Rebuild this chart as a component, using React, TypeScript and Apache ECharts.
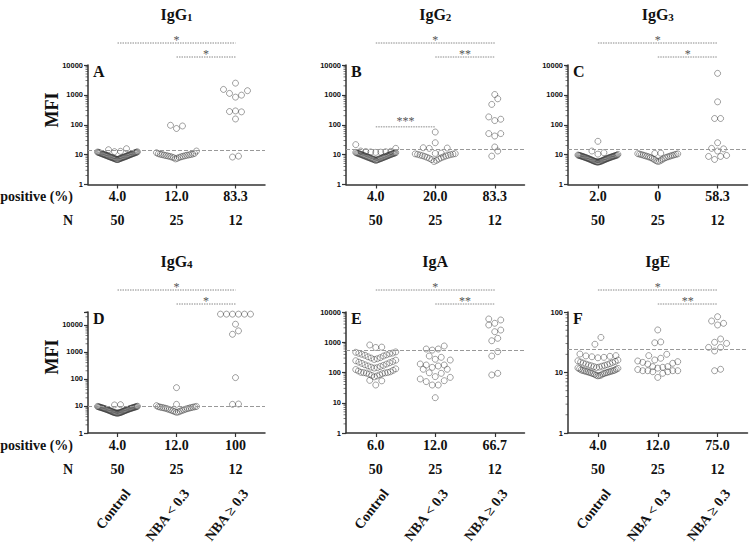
import React, { useEffect, useRef } from 'react';
import * as echarts from 'echarts';

// ---------- data ----------
const groupNames = ['Control', 'NBA < 0.3', 'NBA \u2265 0.3'];
const groupN = ['50', '25', '12'];

const titleMain = ['IgG', 'IgG', 'IgG', 'IgG', 'IgA', 'IgE'];
const titleSub = ['1', '2', '3', '4', '', ''];
const panelLetter = ['A', 'B', 'C', 'D', 'E', 'F'];

const positiveA = ['4.0', '12.0', '83.3'];
const positiveB = ['4.0', '20.0', '83.3'];
const positiveC = ['2.0', '0', '58.3'];
const positiveD = ['4.0', '12.0', '100'];
const positiveE = ['6.0', '12.0', '66.7'];
const positiveF = ['4.0', '12.0', '75.0'];

const cutoffs = [14, 15, 15, 10, 555, 24];
const yMax = [10000, 10000, 10000, 30000, 10000, 100];
const sigAll = ['*', '*', '*', '*', '*', '*'];
const sigNBA = ['*', '**', '*', '*', '**', '**'];
const sigB_ControlVsLow = '***';
const sigB_ControlVsLowLevel = 85;

// IgG1
const igg1Control = [15.8, 14.6, 12.9, 12.6, 12.4, 12.2, 12.1, 11.9, 11.7, 11.6, 11.5, 11.3, 11.1, 11.0, 10.9, 10.7, 10.6, 10.4, 10.3, 10.2, 10.0, 9.9, 9.8, 9.6, 9.5, 9.4, 9.2, 9.1, 9.0, 8.9, 8.7, 8.6, 8.5, 8.4, 8.3, 8.2, 8.1, 8.0, 7.9, 7.8, 7.7, 7.6, 7.5, 7.4, 7.3, 7.2, 7.1, 7.0, 6.9, 6.8];
const igg1Low = [96, 91, 75, 13.2, 11.6, 11.0, 10.7, 10.5, 10.3, 10.1, 10.0, 9.8, 9.6, 9.5, 9.3, 9.2, 9.0, 8.8, 8.7, 8.5, 8.3, 8.1, 7.9, 7.6, 7.2];
const igg1High = [2470, 1520, 1380, 1120, 980, 840, 290, 277, 270, 156, 8.9, 8.3];

// IgG2
const igg2Control = [21.6, 16.2, 13.2, 12.9, 12.7, 12.5, 12.3, 12.1, 11.9, 11.8, 11.6, 11.4, 11.3, 11.1, 11.0, 10.8, 10.7, 10.5, 10.4, 10.2, 10.1, 9.9, 9.8, 9.6, 9.5, 9.3, 9.2, 9.0, 8.9, 8.8, 8.6, 8.5, 8.4, 8.2, 8.1, 8.0, 7.9, 7.8, 7.6, 7.5, 7.4, 7.3, 7.2, 7.1, 7.0, 6.9, 6.8, 6.7, 6.6, 6.4];
const igg2Low = [57, 25, 17, 16.6, 16.2, 11.2, 11.0, 10.8, 10.6, 10.4, 10.2, 10.0, 9.7, 9.5, 9.2, 9.0, 8.7, 8.4, 8.1, 7.8, 7.5, 7.1, 6.8, 6.4, 5.9];
const igg2High = [1030, 740, 480, 183, 153, 138, 50.6, 50.6, 42, 18, 13.2, 8.9];

// IgG3
const igg3Control = [27.9, 13.2, 11.6, 10.4, 10.2, 9.7, 9.6, 9.5, 9.4, 9.3, 9.2, 9.1, 9.0, 8.9, 8.8, 8.7, 8.6, 8.5, 8.4, 8.3, 8.2, 8.1, 8.0, 7.9, 7.8, 7.7, 7.6, 7.5, 7.4, 7.3, 7.2, 7.1, 7.0, 6.9, 6.8, 6.7, 6.6, 6.5, 6.4, 6.3, 6.2, 6.1, 6.0, 5.95, 5.9, 5.85, 5.8, 5.7, 5.65, 5.6];
const igg3Low = [11.2, 11.0, 10.8, 10.6, 10.4, 10.2, 10.0, 9.8, 9.6, 9.4, 9.2, 9.0, 8.8, 8.6, 8.4, 8.2, 8.0, 7.8, 7.5, 7.2, 6.9, 6.6, 6.3, 6.1, 5.9];
const igg3High = [5250, 585, 162, 162, 25, 16.2, 15.6, 13.2, 9.4, 8.7, 8.7, 6.9];

// IgG4
const igg4Control = [11.2, 10.9, 9.8, 9.6, 9.5, 9.4, 9.3, 9.2, 9.1, 9.0, 8.9, 8.8, 8.7, 8.6, 8.5, 8.4, 8.3, 8.2, 8.1, 8.0, 7.9, 7.8, 7.7, 7.6, 7.5, 7.4, 7.3, 7.2, 7.1, 7.0, 6.9, 6.8, 6.7, 6.6, 6.5, 6.4, 6.3, 6.2, 6.1, 6.0, 5.9, 5.8, 5.75, 5.7, 5.65, 5.6, 5.55, 5.5, 5.45, 5.4];
const igg4Low = [47.6, 11.5, 10.3, 9.6, 9.4, 9.3, 9.1, 9.0, 8.8, 8.7, 8.5, 8.3, 8.2, 8.0, 7.8, 7.6, 7.4, 7.2, 7.0, 6.8, 6.6, 6.4, 6.2, 6.0, 5.8];
const igg4High = [25000, 25000, 25000, 25000, 25000, 25000, 10600, 6000, 4500, 112, 11.8, 11.5];

// IgA
const igaControl = [812, 690, 672, 480, 466, 440, 431, 420, 400, 385, 370, 350, 330, 310, 300, 285, 270, 255, 245, 230, 220, 210, 200, 190, 180, 172, 165, 158, 150, 145, 140, 132, 125, 118, 112, 106, 101, 100, 99, 97, 95, 92, 88, 84, 80, 77, 72, 55, 53, 38.6];
const igaLow = [751, 598, 598, 550, 351, 318, 274, 258, 191, 177, 177, 164, 148, 128, 128, 98, 94, 73, 69, 61, 53.6, 50, 38.6, 38.6, 14.7];
const igaHigh = [5870, 5440, 4240, 3720, 2530, 2230, 1350, 1120, 490, 350, 94, 83];

// IgE
const igeControl = [38, 29.3, 20.2, 19.0, 18.8, 18.5, 18.2, 17.8, 17.5, 16.0, 15.6, 15.2, 14.9, 14.6, 14.3, 14.0, 13.8, 13.5, 13.3, 13.1, 12.9, 12.7, 12.5, 12.3, 12.1, 11.9, 11.7, 11.5, 11.3, 11.0, 10.9, 10.8, 10.7, 10.6, 10.5, 10.4, 10.3, 10.2, 10.1, 10.0, 9.9, 9.8, 9.7, 9.6, 9.5, 9.3, 9.1, 9.0, 8.9, 8.8];
const igeLow = [50.5, 32, 31, 20, 19, 17.2, 16.1, 15.5, 15.1, 14.7, 14.2, 13.8, 12.5, 12.5, 12.2, 11.8, 11.2, 10.7, 10.7, 10.7, 10.7, 10.3, 10.3, 9.7, 8.3];
const igeHigh = [83.6, 71, 65, 61, 35.8, 31.6, 30.3, 26, 26, 22.7, 11.3, 10.7];

const panelData = [
  [igg1Control, igg1Low, igg1High],
  [igg2Control, igg2Low, igg2High],
  [igg3Control, igg3Low, igg3High],
  [igg4Control, igg4Low, igg4High],
  [igaControl, igaLow, igaHigh],
  [igeControl, igeLow, igeHigh],
];
const positives = [positiveA, positiveB, positiveC, positiveD, positiveE, positiveF];

// ---------- layout / style ----------
const FONT_SERIF = '"Liberation Serif", "Times New Roman", Times, serif';
const FONT_SANS = '"Liberation Sans", Arial, Helvetica, sans-serif';
const GRID_BOXES = [
  { left: 88, top: 65, width: 177, height: 119.5 },
  { left: 346, top: 65, width: 178.5, height: 119.5 },
  { left: 568, top: 65, width: 179.5, height: 119.5 },
  { left: 88, top: 312, width: 177, height: 121 },
  { left: 346, top: 312, width: 178.5, height: 121 },
  { left: 568, top: 312, width: 179.5, height: 121 },
];
const DOT = 6;
const ROW_H = 8;
const MAX_W = 40;

// column-scatter layout: rows of near-equal values are spread sideways, lowest in the middle
function swarm(values: number[], group: number, gridW: number, gridH: number, logMax: number): number[][] {
  const pxPerUnit = gridW / 3;
  const py = (v: number) => (gridH * Math.log10(v)) / logMax;
  const sorted = [...values].sort((a, b) => a - b);
  const rows: number[][] = [];
  let cur: number[] = [];
  let start = 0;
  for (const v of sorted) {
    if (cur.length === 0) {
      cur.push(v);
      start = py(v);
    } else if (py(v) - start > ROW_H) {
      rows.push(cur);
      cur = [v];
      start = py(v);
    } else cur.push(v);
  }
  if (cur.length) rows.push(cur);
  const out: number[][] = [];
  for (const row of rows) {
    const n = row.length;
    const s = n > 1 ? Math.min(DOT, MAX_W / (n - 1)) : 0;
    row.forEach((v, k) => {
      let off: number;
      if (n % 2 === 1) {
        const m = Math.ceil(k / 2);
        off = (k % 2 === 1 ? 1 : -1) * m * s;
      } else {
        const m = Math.floor(k / 2) + 0.5;
        off = (k % 2 === 0 ? -1 : 1) * m * s;
      }
      out.push([group + off / pxPerUnit, v]);
    });
  }
  return out;
}

function isPow10(v: number) {
  const l = Math.log10(v);
  return Math.abs(l - Math.round(l)) < 1e-6;
}

export default function App() {
  const ref = useRef<HTMLDivElement>(null);
  useEffect(() => {
    document.body.style.margin = '0';
    const el = ref.current!;
    const chart = echarts.init(el, null, { renderer: 'svg' });

    const grid: any[] = [];
    const xAxis: any[] = [];
    const yAxis: any[] = [];
    const series: any[] = [];
    for (let i = 0; i < 6; i++) {
      const b = GRID_BOXES[i];
      const logMax = Math.log10(yMax[i]);
      grid.push({ left: b.left, top: b.top, width: b.width, height: b.height, containLabel: false, outerBoundsMode: 'none' });
      xAxis.push({
        gridIndex: i,
        type: 'value',
        min: -0.5,
        max: 2.5,
        axisLine: { show: true, onZero: false, lineStyle: { color: '#333', width: 1.5 } },
        axisTick: { show: true, customValues: [0, 1, 2], length: 4, lineStyle: { color: '#333', width: 1.2 } },
        axisLabel: {
          show: true,
          customValues: [0, 1, 2],
          formatter: (v: number) => {
            const k = Math.round(v);
            return positives[i][k] + '\n' + groupN[k];
          },
          fontFamily: FONT_SERIF,
          fontWeight: 'bold',
          fontSize: 14,
          lineHeight: 24,
          margin: 0,
          color: '#111',
        },
        splitLine: { show: false },
      });
      yAxis.push({
        gridIndex: i,
        type: 'log',
        logBase: 10,
        min: 1,
        max: yMax[i],
        axisLine: { show: true, onZero: false, lineStyle: { color: '#333', width: 1.5 } },
        axisTick: { show: true, length: 4, lineStyle: { color: '#333', width: 1.2 } },
        axisLabel: {
          formatter: (v: number) => (isPow10(v) ? String(Math.round(v)) : ''),
          fontFamily: FONT_SANS,
          fontWeight: 'bold',
          fontSize: 7.5,
          margin: 5,
          color: '#111',
        },
        splitLine: { show: false },
        minorTick: { show: false },
      });
      const pts: number[][] = [];
      panelData[i].forEach((vals, g) => {
        pts.push(...swarm(vals, g, b.width, b.height, logMax));
      });
      series.push({
        type: 'scatter',
        xAxisIndex: i,
        yAxisIndex: i,
        data: pts,
        symbol: 'circle',
        symbolSize: DOT,
        clip: false,
        silent: true,
        itemStyle: { color: 'rgba(255,255,255,0)', borderColor: 'rgba(40,40,40,0.55)', borderWidth: 1 },
        markLine: {
          silent: true,
          symbol: ['none', 'none'],
          label: { show: false },
          lineStyle: { color: '#999', type: [4, 2], width: 1 },
          data: [{ yAxis: cutoffs[i] }],
        },
      });
      const minor: number[][] = [];
      for (let e = 0; e < Math.ceil(logMax); e++) {
        for (let m = 2; m <= 9; m++) {
          const v = m * Math.pow(10, e);
          if (v <= yMax[i]) minor.push([-0.5, v]);
        }
      }
      series.push({
        type: 'scatter',
        xAxisIndex: i,
        yAxisIndex: i,
        data: minor,
        symbol: 'rect',
        symbolSize: [2.5, 0.8],
        symbolOffset: [-1.25, 0],
        clip: false,
        silent: true,
        itemStyle: { color: '#333' },
        z: 3,
      });
    }

    chart.setOption({ animation: false, backgroundColor: '#fff', grid, xAxis, yAxis, series });

    const gfx: any[] = [];
    const dotted = { stroke: '#888', lineWidth: 1, lineDash: [1.5, 1] };
    for (let i = 0; i < 6; i++) {
      const P = (x: number, y: number) => chart.convertToPixel({ gridIndex: i } as any, [x, y]) as number[];
      const bottom = P(0, 1)[1];
      const top = P(0, yMax[i])[1];
      const left = P(-0.5, 1)[0];
      const cx = [0, 1, 2].map((k) => P(k, 1)[0]);

      // title
      gfx.push({
        type: 'text',
        x: cx[1],
        y: top - 51,
        style: {
          text: titleSub[i] ? `{m|${titleMain[i]}}{s|${titleSub[i]}}` : `{m|${titleMain[i]}}`,
          rich: {
            m: { fontFamily: FONT_SERIF, fontSize: 16, fontWeight: 'bold', lineHeight: 16, verticalAlign: 'top', fill: '#111' },
            s: { fontFamily: FONT_SERIF, fontSize: 11, fontWeight: 'bold', lineHeight: 12, padding: [8, 0, 0, 0], verticalAlign: 'bottom', fill: '#111' },
          },
          align: 'center',
          verticalAlign: 'middle',
          fill: '#111',
        },
      });
      // panel letter
      gfx.push({
        type: 'text',
        x: left + 5,
        y: top + 6,
        style: { text: panelLetter[i], fontFamily: FONT_SERIF, fontSize: 16, fontWeight: 'bold', fill: '#111', align: 'left', verticalAlign: 'middle' },
      });
      // significance brackets
      const yLong = top - 22;
      const yShort = top - 8;
      gfx.push({ type: 'line', shape: { x1: cx[0], y1: yLong, x2: cx[2], y2: yLong }, style: dotted });
      gfx.push({ type: 'line', shape: { x1: cx[1], y1: yShort, x2: cx[2], y2: yShort }, style: dotted });
      gfx.push({
        type: 'text', x: (cx[0] + cx[2]) / 2, y: yLong - 3,
        style: { text: sigAll[i], fontFamily: FONT_SERIF, fontSize: 12, fill: '#555', align: 'center', verticalAlign: 'middle' },
      });
      gfx.push({
        type: 'text', x: (cx[1] + cx[2]) / 2, y: yShort - 3,
        style: { text: sigNBA[i], fontFamily: FONT_SERIF, fontSize: 12, fill: '#555', align: 'center', verticalAlign: 'middle' },
      });
      if (i === 1) {
        const yl = P(0, sigB_ControlVsLowLevel)[1];
        gfx.push({ type: 'line', shape: { x1: cx[0], y1: yl, x2: cx[1], y2: yl }, style: dotted });
        gfx.push({
          type: 'text', x: (cx[0] + cx[1]) / 2, y: yl - 6,
          style: { text: sigB_ControlVsLow, fontFamily: FONT_SERIF, fontSize: 12, fill: '#555', align: 'center', verticalAlign: 'middle' },
        });
      }
      // left column headers
      if (i === 0 || i === 3) {
        gfx.push({
          type: 'text', x: 52, y: top + 45, rotation: Math.PI / 2,
          style: { text: 'MFI', fontFamily: FONT_SERIF, fontSize: 18, fontWeight: 'bold', fill: '#111', align: 'center', verticalAlign: 'middle' },
        });
        gfx.push({
          type: 'text', x: left - 15, y: bottom + 12,
          style: { text: 'positive (%)', fontFamily: FONT_SERIF, fontSize: 14, fontWeight: 'bold', fill: '#111', align: 'right', verticalAlign: 'middle' },
        });
        gfx.push({
          type: 'text', x: left - 15, y: bottom + 36,
          style: { text: 'N', fontFamily: FONT_SERIF, fontSize: 14, fontWeight: 'bold', fill: '#111', align: 'right', verticalAlign: 'middle' },
        });
      }
      // rotated group names (bottom row)
      if (i >= 3) {
        for (let k = 0; k < 3; k++) {
          gfx.push({
            type: 'text', x: cx[k] + 10, y: bottom + 58, rotation: (52 * Math.PI) / 180,
            style: { text: groupNames[k], fontFamily: FONT_SERIF, fontSize: 14, fontWeight: 'bold', fill: '#111', align: 'right', verticalAlign: 'middle' },
          });
        }
      }
    }
    chart.setOption({ graphic: gfx });

    return () => chart.dispose();
  }, []);
  return <div ref={ref} style={{ width: 754, height: 548 }} />;
}
